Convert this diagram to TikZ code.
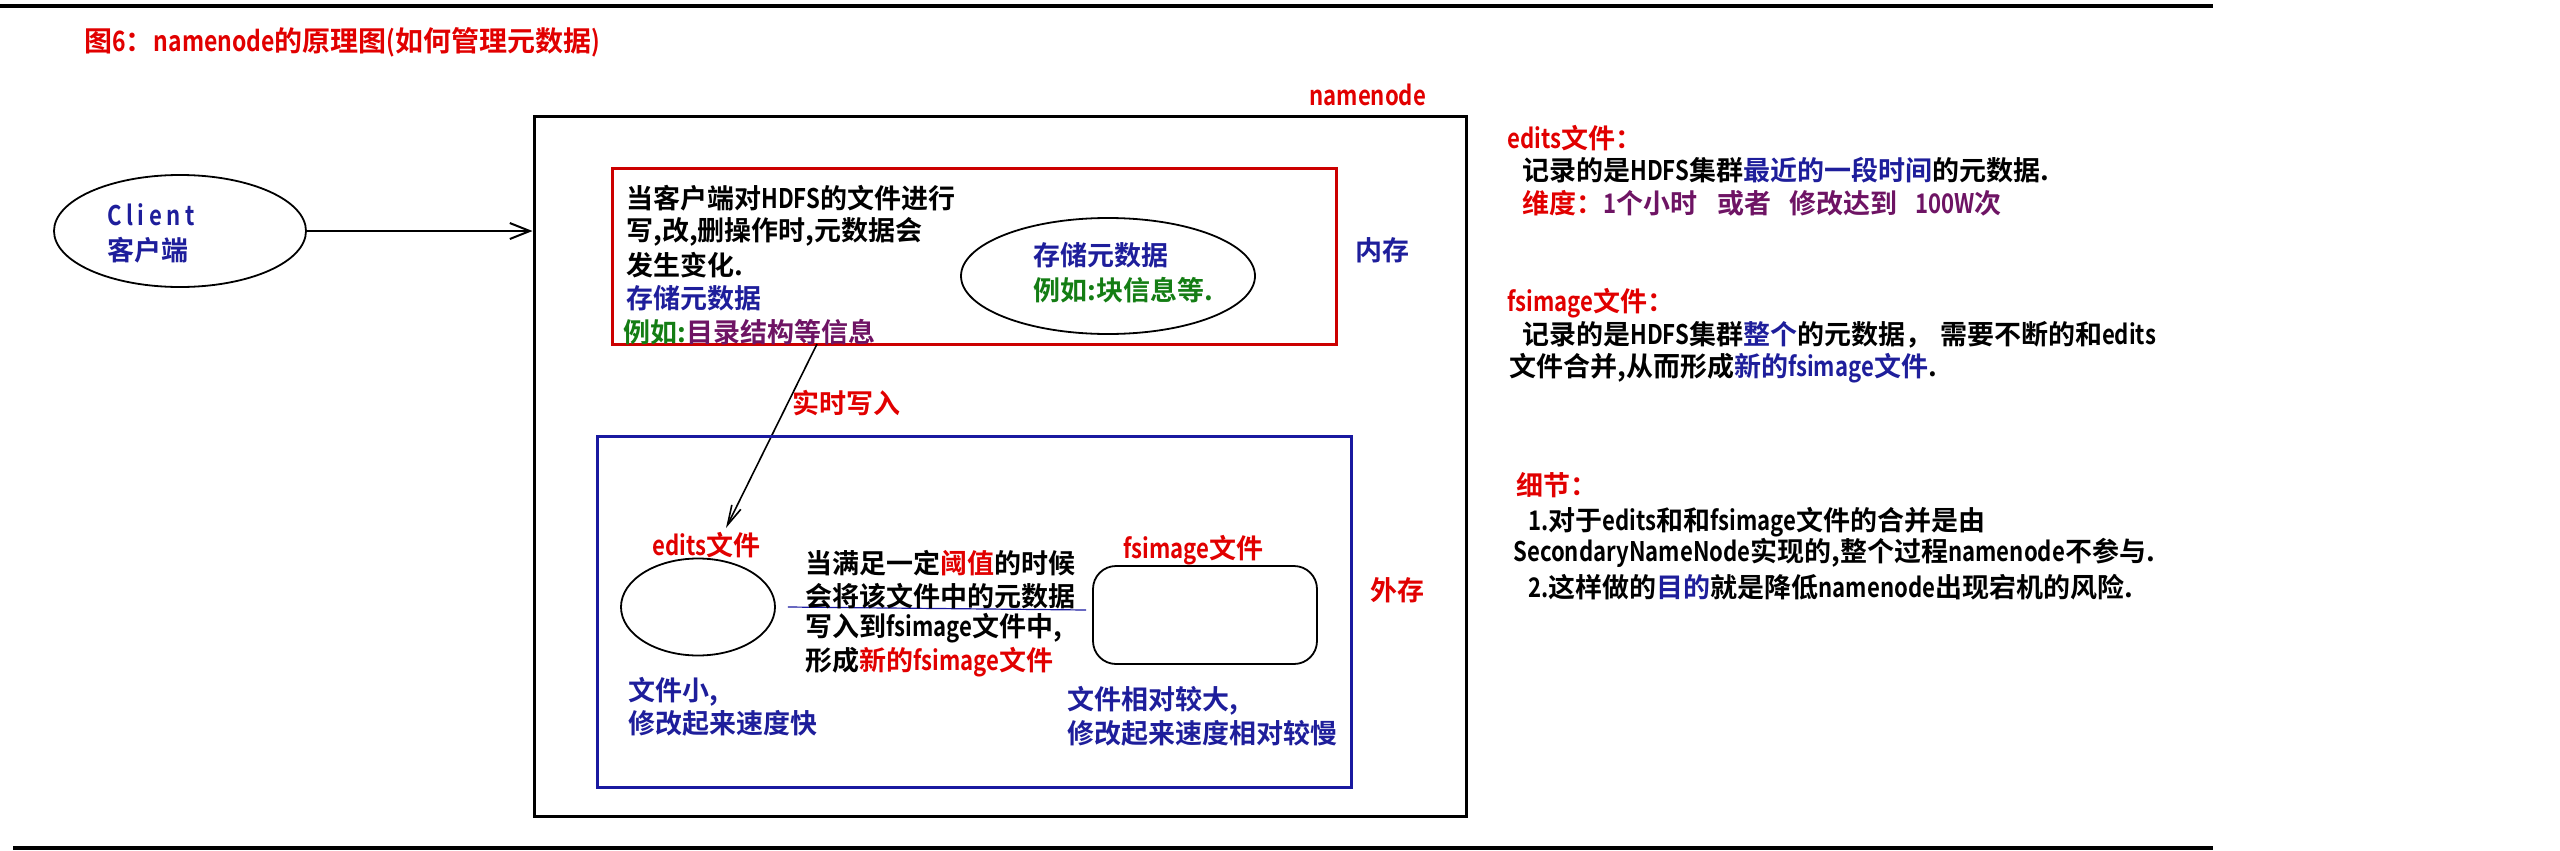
\documentclass[tikz,border=0pt]{standalone}
\usepackage{fontspec}
\setmainfont{Noto Sans CJK SC}[BoldFont={Noto Sans CJK SC Bold}]
\newfontfamily\latfam{Noto Sans CJK SC}[BoldFont={Noto Sans CJK SC Bold}, FakeStretch=0.82]
\newcommand\lt[1]{{\latfam #1}}
\usetikzlibrary{shapes.geometric,arrows.meta}
\definecolor{tred}{RGB}{225,0,0}
\definecolor{bred}{RGB}{204,0,0}
\definecolor{tblue}{RGB}{30,30,155}
\definecolor{bblue}{RGB}{25,25,160}
\definecolor{tpurple}{RGB}{110,20,100}
\definecolor{tgreen}{RGB}{20,125,20}
\tikzset{
  txt/.style={anchor=west, inner sep=0pt, font=\bfseries\fontsize{13.5pt}{16pt}\selectfont},
  bigtxt/.style={anchor=west, inner sep=0pt, font=\bfseries\fontsize{14pt}{17pt}\selectfont},
  ell/.style={draw, ellipse, inner sep=0pt, line width=0.9pt},
  box/.style={draw, rectangle, inner sep=0pt, line width=1.5pt},
  arr/.style={-{Straight Barb[length=10pt,width=8pt]}, line width=1pt},
  warr/.style={-{Straight Barb[length=10pt,width=5pt]}, line width=0.8pt},
}
\begin{document}
\begin{tikzpicture}[x=0.5pt,y=-0.5pt]
\useasboundingbox (0,0) rectangle (2560,851);
% rules
\draw[line width=2pt] (0,6) -- (2213,6);
\draw[line width=2pt] (13,848) -- (2213,848);
% title
\node[bigtxt, text=tred] (title) at (84,42) {图\lt{6}：\lt{namenode}的原理图\lt{(}如何管理元数据\lt{)}};
% client
\node[ell, minimum width=126pt, minimum height=56pt] (client) at (180,231) {};
\node[txt, text=tblue] (clientA) at (107,215) {\lt{C\,l\,i\,e\,n\,t}};
\node[txt, text=tblue] (clientB) at (107,250) {客户端};
% namenode box
\node[box, minimum width=466pt, minimum height=350pt] (nn) at (1000,466) {};
\node[txt, text=tred] (nnlbl) at (1309,95) {\lt{namenode}};
\draw[arr] (client.east) -- (client.east -| nn.west);
% memory box
\node[box, draw=bred, minimum width=362pt, minimum height=88pt] (mem) at (974,256) {};
\node[txt] (m1) at (626,198) {当客户端对\lt{HDFS}的文件进行};
\node[txt] (m2) at (626,232) {写,改,删操作时,元数据会};
\node[txt] (m3) at (626,265) {发生变化.};
\node[txt, text=tblue] (m4) at (626,298) {存储元数据};
\node[txt] (m5) at (623,332) {\color{tgreen}例如:\color{tpurple}目录结构等信息};
\node[ell, minimum width=147pt, minimum height=58pt] (memell) at (1108,276) {};
\node[txt, text=tblue] (e1) at (1033,255) {存储元数据};
\node[txt, text=tgreen] (e2) at (1033,290) {例如:块信息等.};
\node[txt, text=tblue] (neicun) at (1355,250) {内存};
% realtime write
\coordinate (wsrc) at (817,344);
\coordinate (wdst) at (726,528);
\draw[warr] (wsrc) -- (wdst);
\node[txt, text=tred] (rt) at (792,403) {实时写入};
% disk box
\node[box, draw=bblue, minimum width=377pt, minimum height=175.5pt] (disk) at (974,611.5) {};
\node[txt, text=tred] (waicun) at (1370,590) {外存};
\node[txt, text=tred] (editslbl) at (652,545) {\lt{edits}文件};
\node[ell, minimum width=77pt, minimum height=48.5pt] (edits) at (698,607) {};
\node[txt, text=tred] (fslbl) at (1123,550) {\lt{fsimage}文件};
\node[draw, rectangle, rounded corners=11.5pt, inner sep=0pt, line width=0.9pt, minimum width=112pt, minimum height=49pt] (fsimage) at (1205,615) {};
\draw[bblue, line width=0.6pt] ([xshift=6pt]edits.east) -- ([xshift=-3pt,yshift=2.5pt]fsimage.west);
\node[txt] (c1) at (805,563) {当满足一定\color{tred}阈值\color{black}的时候};
\node[txt] (c2) at (805,596) {会将该文件中的元数据};
\node[txt] (c3) at (805,628) {写入到\lt{fsimage}文件中,};
\node[txt] (c4) at (805,662) {形成\color{tred}新的\lt{fsimage}文件};
\node[txt, text=tblue] (s1) at (628,692) {文件小,};
\node[txt, text=tblue] (s2) at (628,723) {修改起来速度快};
\node[txt, text=tblue] (b1) at (1067,701) {文件相对较大,};
\node[txt, text=tblue] (b2) at (1067,733) {修改起来速度相对较慢};
% right notes
\node[txt, text=tred] (r1) at (1507,138) {\lt{edits}文件：};
\node[txt] (r2) at (1522,170) {记录的是\lt{HDFS}集群\color{tblue}最近的一段时间\color{black}的元数据.};
\node[txt] (r3) at (1522,203) {\color{tred}维度：\color{tpurple}\lt{1}个小时\hspace{10pt}或者\hspace{9pt}修改达到\hspace{9pt}\lt{100W}次};
\node[txt, text=tred] (r4) at (1507,303) {\lt{fsimage}文件：};
\node[txt] (r5) at (1522,335) {记录的是\lt{HDFS}集群\color{tblue}整个\color{black}的元数据，\hspace{4pt}需要不断的和\lt{edits}};
\node[txt] (r6) at (1509,368) {文件合并,从而形成\color{tblue}新的\lt{fsimage}文件\color{black}.};
\node[txt, text=tred] (r7) at (1516,485) {细节：};
\node[txt] (r8) at (1528,522) {\lt{1.}对于\lt{edits}和和\lt{fsimage}文件的合并是由};
\node[txt] (r9) at (1513,553) {\lt{SecondaryNameNode}实现的,整个过程\lt{namenode}不参与.};
\node[txt] (r10) at (1528,587) {\lt{2.}这样做的\color{tblue}目的\color{black}就是降低\lt{namenode}出现宕机的风险.};
\end{tikzpicture}
\end{document}
